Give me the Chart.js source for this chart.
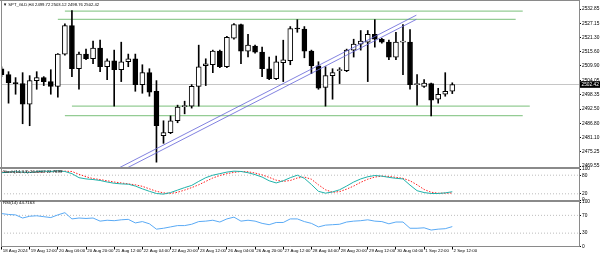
<!DOCTYPE html>
<html>
<head>
<meta charset="utf-8">
<script src="https://cdn.jsdelivr.net/npm/chart.js@4.4.1/dist/chart.umd.min.js"></script>
<style>
  html, body { margin: 0; padding: 0; background: #fff; }
  #wrap { position: relative; width: 600px; height: 257px; overflow: hidden; font-family: "Liberation Sans", Arial, sans-serif; }
  canvas { position: absolute; left: 0; }
  .frame { position: absolute; background: #8a8a8a; }
  .lbl { position: absolute; font-size: 4.3px; line-height: 1; color: #000; white-space: nowrap; }
</style>
</head>
<body>
<div id="wrap">
  <canvas id="main" width="600" height="172" style="top:0px"></canvas>
  <canvas id="stoch" width="600" height="40" style="top:164px"></canvas>
  <canvas id="rsi" width="600" height="59" style="top:198px"></canvas>

  <div class="frame" style="left:0;top:0;width:580px;height:1px"></div>
  <div class="frame" style="left:1px;top:0;width:1px;height:247px"></div>
  <div class="frame" style="left:579px;top:0;width:1px;height:247px"></div>
  <div class="frame" style="left:0;top:167px;width:580px;height:2px"></div>
  <div class="frame" style="left:0;top:200px;width:580px;height:2px"></div>

  <div class="lbl" id="hdr" style="left:3px;top:2.6px;font-size:4.2px"></div>
  <div class="lbl" id="stochLbl" style="left:3px;top:170px"></div>
  <div class="lbl" id="rsiLbl" style="left:3px;top:201.3px"></div>
</div>
<script>
// --- data (H4 candles, 18 Aug - 2 Sep 2024) ---
const symbol = 'SPT_GLD,H4';
const timeLabels = ['18 Aug 2024', '19 Aug 12:00', '20 Aug 04:00', '20 Aug 20:00', '21 Aug 12:00',
  '22 Aug 04:00', '22 Aug 20:00', '23 Aug 12:00', '26 Aug 04:00', '26 Aug 20:00', '27 Aug 12:00',
  '28 Aug 04:00', '28 Aug 20:00', '29 Aug 12:00', '30 Aug 04:00', '1 Sep 22:00', '2 Sep 12:00'];
const priceTicks = [2532.85, 2527.15, 2521.30, 2515.60, 2509.90, 2504.05, 2498.35, 2492.50, 2486.80, 2481.10, 2475.25, 2469.55];

const opens = [2508.8, 2506.4, 2503.0, 2502.8, 2494.5, 2504.0, 2505.2, 2503.6, 2501.7, 2514.7,
  2526.2, 2508.8, 2514.7, 2512.8, 2517.1, 2509.6, 2512.0, 2508.4, 2511.6, 2512.8,
  2502.4, 2507.2, 2499.7, 2481.8, 2483.0, 2487.8, 2493.5, 2493.7, 2501.7, 2510.0,
  2510.4, 2515.9, 2509.6, 2521.1, 2526.6, 2515.9, 2517.9, 2515.5, 2508.8, 2504.8,
  2511.2, 2512.0, 2525.0, 2524.8, 2515.9, 2510.0, 2501.3, 2506.0, 2508.0, 2508.0,
  2516.3, 2518.7, 2519.5, 2522.7, 2520.7, 2519.5, 2513.5, 2519.5, 2519.5, 2502.4,
  2501.7, 2502.8, 2496.5, 2498.5, 2499.72];
const highs = [2509.6, 2507.6, 2505.2, 2507.2, 2506.0, 2507.6, 2505.6, 2508.4, 2514.9, 2526.9,
  2532.2, 2515.5, 2516.7, 2519.9, 2520.3, 2512.8, 2516.3, 2519.5, 2514.7, 2514.7,
  2510.4, 2508.8, 2504.0, 2487.8, 2489.8, 2494.1, 2495.7, 2502.4, 2518.3, 2512.8,
  2516.3, 2516.3, 2521.9, 2527.0, 2526.8, 2522.7, 2518.3, 2517.5, 2513.5, 2513.9,
  2520.3, 2525.8, 2528.6, 2525.8, 2516.3, 2511.6, 2509.6, 2508.8, 2509.2, 2516.7,
  2520.7, 2524.2, 2524.2, 2528.6, 2521.1, 2520.3, 2523.5, 2526.6, 2524.6, 2506.4,
  2504.4, 2503.0, 2500.9, 2507.2, 2503.12];
const lows = [2505.6, 2494.9, 2498.5, 2486.6, 2485.8, 2500.5, 2502.0, 2498.5, 2497.3, 2514.3,
  2505.6, 2500.5, 2512.4, 2510.8, 2507.6, 2504.4, 2493.7, 2503.6, 2509.6, 2499.7,
  2498.9, 2497.7, 2471.1, 2478.7, 2482.6, 2487.0, 2490.6, 2492.9, 2493.7, 2502.0,
  2507.2, 2509.2, 2509.2, 2520.7, 2510.8, 2513.6, 2515.1, 2505.6, 2504.4, 2504.4,
  2503.6, 2510.4, 2523.5, 2513.2, 2506.8, 2500.5, 2493.7, 2496.5, 2502.8, 2507.6,
  2513.5, 2516.3, 2503.6, 2517.5, 2519.1, 2512.4, 2512.4, 2506.4, 2500.5, 2494.1,
  2501.3, 2489.8, 2494.9, 2497.7, 2498.76];
const closes = [2506.4, 2503.2, 2502.8, 2494.5, 2504.0, 2505.2, 2503.6, 2501.7, 2514.7, 2526.2,
  2508.8, 2514.7, 2512.8, 2517.1, 2509.6, 2512.0, 2508.4, 2511.6, 2512.8, 2502.4,
  2507.2, 2499.3, 2485.8, 2483.0, 2487.8, 2493.3, 2493.8, 2501.7, 2509.6, 2510.8,
  2515.9, 2509.6, 2521.5, 2526.6, 2515.9, 2518.3, 2515.5, 2508.8, 2504.8, 2511.6,
  2512.4, 2525.0, 2524.8, 2515.9, 2510.0, 2500.9, 2506.0, 2507.2, 2508.3, 2516.3,
  2518.7, 2519.9, 2522.7, 2520.7, 2519.5, 2513.5, 2519.5, 2519.7, 2502.4, 2502.6,
  2503.0, 2496.1, 2498.5, 2499.7, 2502.42];

const stochMain = [88, 90, 91, 90, 89, 91, 93, 92, 94, 92,
  85, 72, 68, 66, 63, 58, 54, 52, 51, 45,
  36, 28, 21, 19, 24, 32, 40, 47, 60, 72,
  80, 85, 90, 93, 92, 88, 82, 74, 62, 55,
  62, 72, 80, 70, 50, 28, 22, 26, 33, 45,
  58, 68, 75, 79, 77, 73, 70, 68, 48, 30,
  24, 21, 21, 23, 26.6302];
const stochSignal = [90, 90, 90, 90, 90, 90, 91, 92, 93, 93,
  92, 83, 75, 69, 66, 62, 58, 55, 52, 49,
  44, 36, 28, 23, 21, 25, 32, 40, 49, 60,
  71, 79, 85, 89, 92, 91, 87, 81, 73, 64,
  60, 63, 71, 74, 67, 49, 33, 25, 27, 35,
  45, 57, 67, 74, 77, 76, 73, 70, 62, 49,
  34, 25, 22, 22, 22.7699];
const rsiValues = [74, 72, 71, 64, 68, 69, 67, 65, 71, 76,
  62, 64, 63, 64, 57, 59, 58, 60, 61, 53,
  56, 51, 39, 41, 44, 47, 47, 50, 56, 57,
  59, 55, 62, 66, 57, 59, 57, 52, 49, 54,
  54, 62, 62, 56, 52, 44, 48, 49, 50, 55,
  57, 58, 60, 57, 56, 51, 55, 55, 41, 41,
  42, 37, 39, 40, 44.7163];

const stochLevels = [0, 20, 80, 100];
const rsiLevels = [0, 30, 70, 100];

// drawn objects: horizontal lines (price, first/last candle) and the two trend lines
const hLinePrices = [2532.06, 2528.73, 2493.72, 2489.88];
const hLineFrom = [9, 8, 10, 9];
const hLineTo = [74, 73, 75, 74];
const trendFromX = [16, 16];
const trendFromY = [2467.8, 2466.1];
const trendToX = [58.9, 58.9];
const trendToY = [2530.4, 2528.7];

// --- shared settings ---
const xMin = -0.07, xMax = 81.99;
const FONT = 'Liberation Sans';
const idx = closes.map((_, i) => i);
const last = closes.length - 1;

function xHidden() {
  return { type: 'linear', min: xMin, max: xMax, display: false, offset: false, grid: { offset: false } };
}
function yRight(min, max, tickValues, fmt) {
  return {
    position: 'right', min: min, max: max,
    afterFit: function (s) { s.width = 21; },
    afterBuildTicks: function (s) { s.ticks = tickValues.map(v => ({ value: v })); },
    ticks: { autoSkip: false, color: '#000', padding: 1, font: { family: FONT, size: 4.8 }, callback: fmt },
    grid: { drawOnChartArea: false, tickLength: 2, color: '#000' },
    border: { display: false }
  };
}
function flat(level) {
  return [{ x: xMin, y: level }, { x: xMax, y: level }];
}

const lastPriceTag = {
  id: 'lastPriceTag',
  afterDraw(chart) {
    const ctx = chart.ctx;
    const y = chart.scales.y.getPixelForValue(closes[last]);
    const x = chart.chartArea.right + 1;
    ctx.save();
    ctx.fillStyle = '#000';
    ctx.fillRect(x, y - 3.3, 21, 6.6);
    ctx.fillStyle = '#fff';
    ctx.font = '4.8px "' + FONT + '"';
    ctx.textBaseline = 'middle';
    ctx.fillText(closes[last].toFixed(2), x + 1.5, y + 0.3);
    ctx.restore();
  }
};

// --- main price chart ---
const mainSets = [
  {
    type: 'bar', order: 1, grouped: false, barThickness: 5, minBarLength: 1,
    data: idx.map(i => ({ x: i, y: [opens[i], closes[i]] })),
    backgroundColor: idx.map(i => closes[i] >= opens[i] ? '#ffffff' : '#000000'),
    borderColor: '#000', borderWidth: 1, borderSkipped: false
  },
  {
    type: 'bar', order: 2, grouped: false, barThickness: 1,
    data: idx.map(i => ({ x: i, y: [lows[i], highs[i]] })),
    backgroundColor: '#000'
  },
  {
    type: 'line', order: 5, data: flat(closes[last]),
    borderColor: '#c6c6c6', borderWidth: 1, pointRadius: 0
  }
];
hLinePrices.forEach((p, k) => {
  mainSets.push({
    type: 'line', order: 4,
    data: [{ x: hLineFrom[k], y: p }, { x: hLineTo[k], y: p }],
    borderColor: '#94cc94', borderWidth: 1.3, pointRadius: 0
  });
});
trendFromX.forEach((x0, k) => {
  mainSets.push({
    type: 'line', order: 0,
    data: [{ x: x0, y: trendFromY[k] }, { x: trendToX[k], y: trendToY[k] }],
    borderColor: '#6262d8', borderWidth: 0.8, pointRadius: 0
  });
});

new Chart(document.getElementById('main'), {
  type: 'bar',
  data: { datasets: mainSets },
  options: {
    responsive: false, animation: false,
    layout: { padding: { left: 1, top: 1, bottom: 5, right: 0 } },
    plugins: { legend: { display: false }, tooltip: { enabled: false } },
    scales: {
      x: xHidden(),
      y: yRight(2469.15, 2534.95, priceTicks, v => v.toFixed(2))
    }
  },
  plugins: [lastPriceTag]
});

// --- stochastic ---
new Chart(document.getElementById('stoch'), {
  type: 'line',
  data: {
    datasets: [
      { data: idx.map(i => ({ x: i, y: stochMain[i] })), borderColor: '#20b2aa', borderWidth: 1, pointRadius: 0, tension: 0 },
      { data: idx.map(i => ({ x: i, y: stochSignal[i] })), borderColor: '#ff2020', borderWidth: 1, borderDash: [1.5, 1.5], pointRadius: 0, tension: 0 },
      { data: flat(stochLevels[1]), borderColor: '#bdbdbd', borderWidth: 1, borderDash: [1, 2], pointRadius: 0 },
      { data: flat(stochLevels[2]), borderColor: '#bdbdbd', borderWidth: 1, borderDash: [1, 2], pointRadius: 0 }
    ]
  },
  options: {
    responsive: false, animation: false,
    layout: { padding: { left: 1, top: 5, bottom: 4, right: 0 } },
    plugins: { legend: { display: false }, tooltip: { enabled: false } },
    scales: {
      x: xHidden(),
      y: yRight(0, 100, stochLevels, v => String(v))
    }
  }
});

// --- RSI ---
new Chart(document.getElementById('rsi'), {
  type: 'line',
  data: {
    datasets: [
      { data: idx.map(i => ({ x: i, y: rsiValues[i] })), borderColor: '#5aaaf5', borderWidth: 1, pointRadius: 0, tension: 0 },
      { data: flat(rsiLevels[1]), borderColor: '#bdbdbd', borderWidth: 1, borderDash: [1, 2], pointRadius: 0 },
      { data: flat(rsiLevels[2]), borderColor: '#bdbdbd', borderWidth: 1, borderDash: [1, 2], pointRadius: 0 }
    ]
  },
  options: {
    responsive: false, animation: false,
    layout: { padding: { left: 1, top: 4, bottom: 0, right: 0 } },
    plugins: { legend: { display: false }, tooltip: { enabled: false } },
    scales: {
      x: {
        type: 'linear', min: xMin, max: xMax, position: 'bottom', offset: false,
        afterFit: function (s) { s.height = 10.5; },
        afterBuildTicks: function (s) { s.ticks = timeLabels.map((_, k) => ({ value: k * 4 })); },
        ticks: {
          autoSkip: false, maxRotation: 0, minRotation: 0, align: 'start', labelOffset: 1.2, padding: -1,
          color: '#000', font: { family: FONT, size: 4.4 },
          callback: (v, k) => timeLabels[k]
        },
        grid: { drawOnChartArea: false, tickLength: 3, color: '#000' },
        border: { display: true, color: '#8a8a8a', width: 1 }
      },
      y: yRight(0, 100, rsiLevels, v => String(v))
    }
  }
});

// --- header and indicator captions ---
document.getElementById('hdr').textContent = '\u25BC ' + symbol + ' ' +
  [opens[last], highs[last], lows[last], closes[last]].map(v => v.toFixed(2)).join(' ');
document.getElementById('stochLbl').textContent = 'Stoch(14,3,3) ' +
  stochMain[last].toFixed(4) + ' ' + stochSignal[last].toFixed(4);
document.getElementById('rsiLbl').textContent = 'RSI(14) ' + rsiValues[last].toFixed(4);
</script>
</body>
</html>
